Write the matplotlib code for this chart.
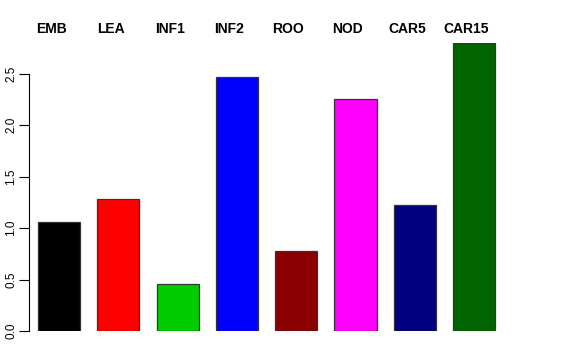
import matplotlib
matplotlib.use("Agg")
import matplotlib.pyplot as plt
import numpy as np

# Data
groups = ["EMB", "LEA", "INF1", "INF2", "ROO", "NOD", "CAR5", "CAR15"]
values = [1.06, 1.28, 0.457, 2.47, 0.78, 2.25, 1.22, 2.80]
colors = ["#000000", "#FF0000", "#00CD00", "#0000FF",
          "#8B0000", "#FF00FF", "#000080", "#006400"]
yticks = [0.0, 0.5, 1.0, 1.5, 2.0, 2.5]

plt.rcParams['font.family'] = ['Liberation Sans', 'DejaVu Sans']

W, H = 576, 360
fig = plt.figure(figsize=(W / 100, H / 100), dpi=100)
# axes placed in pixel units (left, bottom, width, height)
ax = fig.add_axes([29 / W, 29 / H, 492.5 / W, 288.3 / H])

x = np.arange(len(groups))
ax.bar(x, values, width=0.71, color=colors, edgecolor="#333333", linewidth=0.9)

ax.set_xlim(-0.506, 7.8)
ax.set_ylim(0, 2.8)

# R-style left axis only, spanning the tick range
for side in ["top", "right", "bottom"]:
    ax.spines[side].set_visible(False)
ax.spines["left"].set_bounds(0, 2.5)
ax.spines["left"].set_linewidth(0.8)
ax.set_yticks(yticks)
ax.set_yticklabels([f"{v:.1f}" for v in yticks], rotation=90, va="center",
                   fontsize=8.5)
ax.tick_params(axis="y", length=7, width=0.8, pad=1.5)
ax.set_xticks([])

# group labels across the top band of the figure
trans = matplotlib.transforms.blended_transform_factory(ax.transData, fig.transFigure)
for xi, name in zip(x, groups):
    ax.text(xi - 0.13, 1 - 36 / H, name, transform=trans,
            ha="center", va="bottom", fontsize=10, fontweight="bold")

fig.savefig("out.png", dpi=100)
